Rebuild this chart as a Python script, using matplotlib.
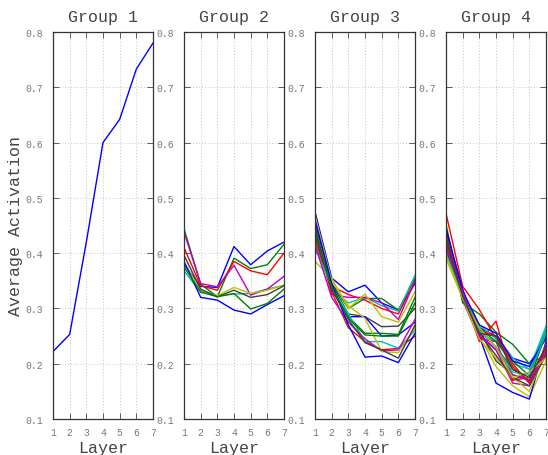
import matplotlib
matplotlib.use("Agg")
import matplotlib.pyplot as plt

layers = [1, 2, 3, 4, 5, 6, 7]
group_titles = ["Group 1", "Group 2", "Group 3", "Group 4"]
y_ticks = [0.1, 0.2, 0.3, 0.4, 0.5, 0.6, 0.7, 0.8]

group1 = [
    [0.222, 0.253, 0.420, 0.600, 0.642, 0.733, 0.780],
]

group2 = [
    [0.380, 0.340, 0.338, 0.412, 0.379, 0.404, 0.420],
    [0.444, 0.344, 0.321, 0.391, 0.372, 0.379, 0.416],
    [0.410, 0.341, 0.333, 0.385, 0.368, 0.361, 0.400],
    [0.368, 0.329, 0.323, 0.326, 0.327, 0.335, 0.342],
    [0.438, 0.345, 0.339, 0.378, 0.324, 0.335, 0.358],
    [0.384, 0.332, 0.323, 0.338, 0.327, 0.333, 0.342],
    [0.396, 0.335, 0.321, 0.333, 0.320, 0.325, 0.341],
    [0.385, 0.320, 0.315, 0.297, 0.290, 0.307, 0.323],
    [0.375, 0.330, 0.321, 0.327, 0.299, 0.309, 0.335],
]

group3 = [
    [0.475, 0.355, 0.330, 0.342, 0.310, 0.297, 0.345],
    [0.455, 0.345, 0.300, 0.318, 0.318, 0.297, 0.355],
    [0.435, 0.340, 0.325, 0.315, 0.300, 0.290, 0.350],
    [0.420, 0.335, 0.310, 0.320, 0.305, 0.295, 0.360],
    [0.448, 0.325, 0.320, 0.320, 0.310, 0.280, 0.350],
    [0.385, 0.355, 0.300, 0.326, 0.285, 0.275, 0.330],
    [0.465, 0.345, 0.290, 0.285, 0.267, 0.268, 0.300],
    [0.430, 0.335, 0.285, 0.285, 0.250, 0.252, 0.275],
    [0.440, 0.340, 0.285, 0.255, 0.255, 0.253, 0.320],
    [0.428, 0.330, 0.265, 0.240, 0.225, 0.228, 0.250],
    [0.410, 0.340, 0.290, 0.240, 0.240, 0.228, 0.260],
    [0.415, 0.320, 0.275, 0.245, 0.223, 0.225, 0.280],
    [0.468, 0.350, 0.305, 0.282, 0.222, 0.220, 0.265],
    [0.445, 0.335, 0.280, 0.238, 0.225, 0.210, 0.270],
    [0.460, 0.345, 0.270, 0.212, 0.214, 0.202, 0.255],
    [0.437, 0.338, 0.282, 0.252, 0.250, 0.250, 0.310],
]

group4 = [
    [0.430, 0.330, 0.265, 0.250, 0.210, 0.200, 0.245],
    [0.452, 0.310, 0.290, 0.257, 0.235, 0.200, 0.215],
    [0.472, 0.340, 0.298, 0.245, 0.195, 0.165, 0.220],
    [0.395, 0.325, 0.255, 0.240, 0.200, 0.190, 0.268],
    [0.420, 0.315, 0.245, 0.240, 0.170, 0.185, 0.250],
    [0.400, 0.320, 0.250, 0.195, 0.160, 0.140, 0.205],
    [0.415, 0.330, 0.260, 0.205, 0.180, 0.170, 0.230],
    [0.440, 0.335, 0.250, 0.165, 0.148, 0.136, 0.240],
    [0.420, 0.320, 0.265, 0.240, 0.205, 0.178, 0.260],
    [0.435, 0.330, 0.240, 0.277, 0.170, 0.175, 0.230],
    [0.410, 0.325, 0.270, 0.245, 0.210, 0.190, 0.262],
    [0.425, 0.328, 0.255, 0.225, 0.165, 0.160, 0.235],
    [0.390, 0.318, 0.245, 0.210, 0.175, 0.150, 0.225],
    [0.405, 0.322, 0.255, 0.215, 0.175, 0.160, 0.215],
    [0.445, 0.332, 0.270, 0.255, 0.205, 0.195, 0.250],
    [0.430, 0.315, 0.265, 0.230, 0.190, 0.170, 0.255],
    [0.415, 0.325, 0.260, 0.250, 0.200, 0.165, 0.225],
    [0.400, 0.320, 0.260, 0.230, 0.185, 0.180, 0.255],
    [0.410, 0.330, 0.250, 0.225, 0.180, 0.170, 0.220],
    [0.395, 0.318, 0.265, 0.230, 0.175, 0.185, 0.210],
    [0.425, 0.322, 0.255, 0.250, 0.190, 0.175, 0.230],
]

groups = [group1, group2, group3, group4]
colors = ["#0000ff", "#008000", "#ff0000", "#00bfbf", "#bf00bf", "#bfbf00", "#404040"]

plt.rcParams['font.family'] = ['Liberation Mono', 'DejaVu Sans Mono']

W, H = 548, 456
fig = plt.figure(figsize=(W / 100, H / 100), dpi=100)

lefts = [53, 184, 315, 446]
ax_w = 100
top, bottom = 33, 420

for gi, (left, series, title) in enumerate(zip(lefts, groups, group_titles)):
    ax = fig.add_axes([left / W, 1 - bottom / H, ax_w / W, (bottom - top) / H])
    for si, vals in enumerate(series):
        ax.plot(layers, vals, color=colors[si % len(colors)], lw=1.0)
    ax.set_xlim(1, 7)
    ax.set_ylim(0.1, 0.8)
    ax.set_xticks(layers)
    ax.set_yticks(y_ticks)
    ax.set_yticklabels([f"{t:.1f}" for t in y_ticks])
    ax.grid(True, color="#c4c4c4", linestyle=(0, (1, 2)), linewidth=0.7)
    ax.tick_params(direction="in", top=True, right=True, length=4, width=0.6,
                   labelsize=7, labelcolor="#777777", color="#444444")
    ax.tick_params(axis="y", pad=7)
    ax.tick_params(axis="x", pad=6)
    for sp in ax.spines.values():
        sp.set_color("#333333")
        sp.set_linewidth(0.9)
    ax.set_title(title, fontsize=12, color="#444444", pad=8)
    ax.set_xlabel("Layer", fontsize=12, color="#444444", labelpad=2)
    if gi == 0:
        ax.set_ylabel("Average Activation", fontsize=12, color="#444444", labelpad=2)

fig.savefig("out.png", dpi=100)
